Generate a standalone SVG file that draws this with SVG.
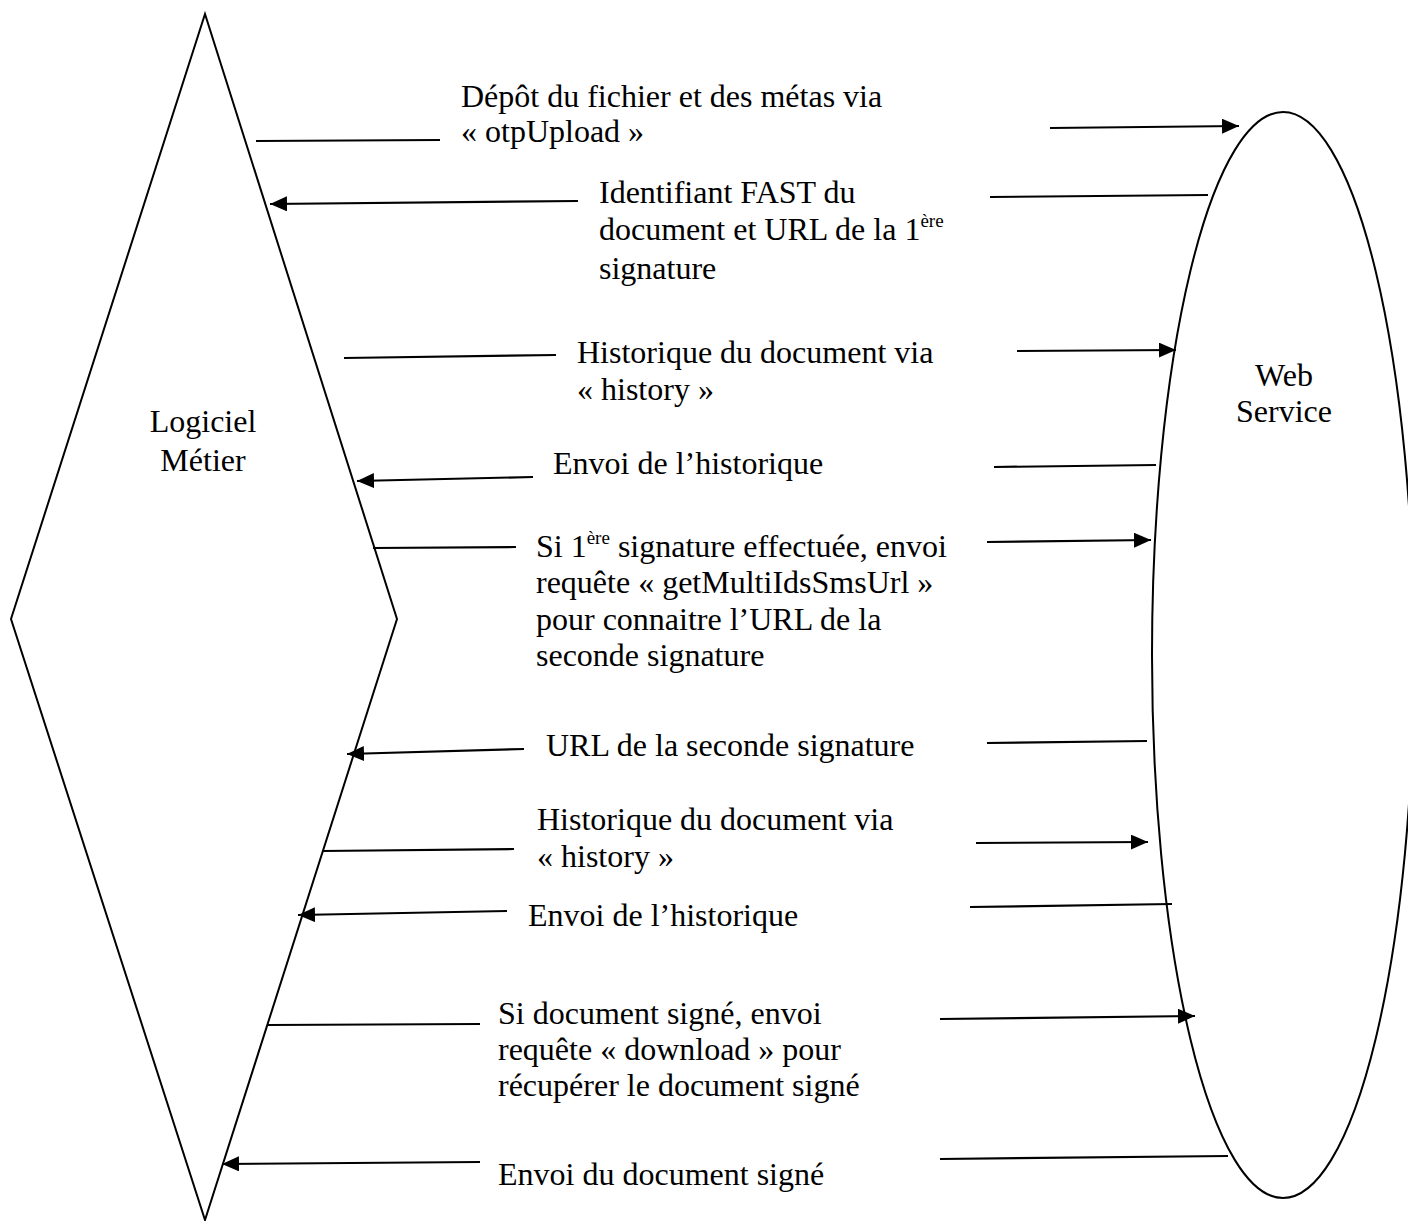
<svg xmlns="http://www.w3.org/2000/svg" width="1408" height="1221" viewBox="0 0 1408 1221">
<style>
text{font-family:"Liberation Serif","Times New Roman",serif;font-size:32px;fill:#000}
.sh{fill:none;stroke:#000;stroke-width:2}
.ln{fill:none;stroke:#000;stroke-width:2.2}
.sup{font-size:19px}
</style>
<defs>
<marker id="ah" markerUnits="userSpaceOnUse" markerWidth="17" markerHeight="15" refX="17" refY="7.5" orient="auto">
<path d="M0,0 L17,7.5 L0,15 Z" fill="#000"/>
</marker>
</defs>
<rect width="1408" height="1221" fill="#fff"/>
<g id="logiciel">
<polygon class="sh" points="205,14 397,619 205,1220 11,619"/>
<text x="203" y="432" text-anchor="middle">Logiciel</text>
<text x="203" y="471" text-anchor="middle">Métier</text>
</g>
<g id="webservice">
<ellipse class="sh" cx="1283" cy="655" rx="131" ry="543"/>
<text x="1284" y="386" text-anchor="middle">Web</text>
<text x="1284" y="422" text-anchor="middle">Service</text>
</g>
<g id="connectors">
<line class="ln" x1="256" y1="141" x2="440" y2="140"/>
<line class="ln" x1="1050" y1="128" x2="1239" y2="126" marker-end="url(#ah)"/>
<line class="ln" x1="1208" y1="195" x2="990" y2="197"/>
<line class="ln" x1="578" y1="201" x2="270" y2="204" marker-end="url(#ah)"/>
<line class="ln" x1="344" y1="358" x2="556" y2="355"/>
<line class="ln" x1="1017" y1="351" x2="1176" y2="350" marker-end="url(#ah)"/>
<line class="ln" x1="1156" y1="465" x2="994" y2="467"/>
<line class="ln" x1="533" y1="477" x2="357" y2="481" marker-end="url(#ah)"/>
<line class="ln" x1="373" y1="548" x2="516" y2="547"/>
<line class="ln" x1="987" y1="542" x2="1151" y2="540" marker-end="url(#ah)"/>
<line class="ln" x1="1147" y1="741" x2="987" y2="743"/>
<line class="ln" x1="524" y1="749" x2="347" y2="754" marker-end="url(#ah)"/>
<line class="ln" x1="322" y1="851" x2="514" y2="849"/>
<line class="ln" x1="976" y1="843" x2="1148" y2="842" marker-end="url(#ah)"/>
<line class="ln" x1="1172" y1="904" x2="970" y2="907"/>
<line class="ln" x1="507" y1="911" x2="298" y2="915" marker-end="url(#ah)"/>
<line class="ln" x1="268" y1="1025" x2="480" y2="1024"/>
<line class="ln" x1="940" y1="1019" x2="1195" y2="1016" marker-end="url(#ah)"/>
<line class="ln" x1="1228" y1="1156" x2="940" y2="1159"/>
<line class="ln" x1="480" y1="1162" x2="222" y2="1164" marker-end="url(#ah)"/>
</g>
<g id="labels">
<text x="461" y="107">Dépôt du fichier et des métas via</text>
<text x="461" y="142">« otpUpload »</text>
<text x="599" y="203">Identifiant FAST du</text>
<text x="599" y="240">document et URL de la 1<tspan class="sup" dy="-13">ère</tspan></text>
<text x="599" y="279">signature</text>
<text x="577" y="363">Historique du document via</text>
<text x="577" y="400">« history »</text>
<text x="553" y="474">Envoi de l’historique</text>
<text x="536" y="557">Si 1<tspan class="sup" dy="-13">ère</tspan><tspan dy="13"> signature effectuée, envoi</tspan></text>
<text x="536" y="593">requête « getMultiIdsSmsUrl »</text>
<text x="536" y="630">pour connaitre l’URL de la</text>
<text x="536" y="666">seconde signature</text>
<text x="546" y="756">URL de la seconde signature</text>
<text x="537" y="830">Historique du document via</text>
<text x="537" y="867">« history »</text>
<text x="528" y="926">Envoi de l’historique</text>
<text x="498" y="1024">Si document signé, envoi</text>
<text x="498" y="1060">requête « download » pour</text>
<text x="498" y="1096">récupérer le document signé</text>
<text x="498" y="1185">Envoi du document signé</text>
</g>
</svg>
